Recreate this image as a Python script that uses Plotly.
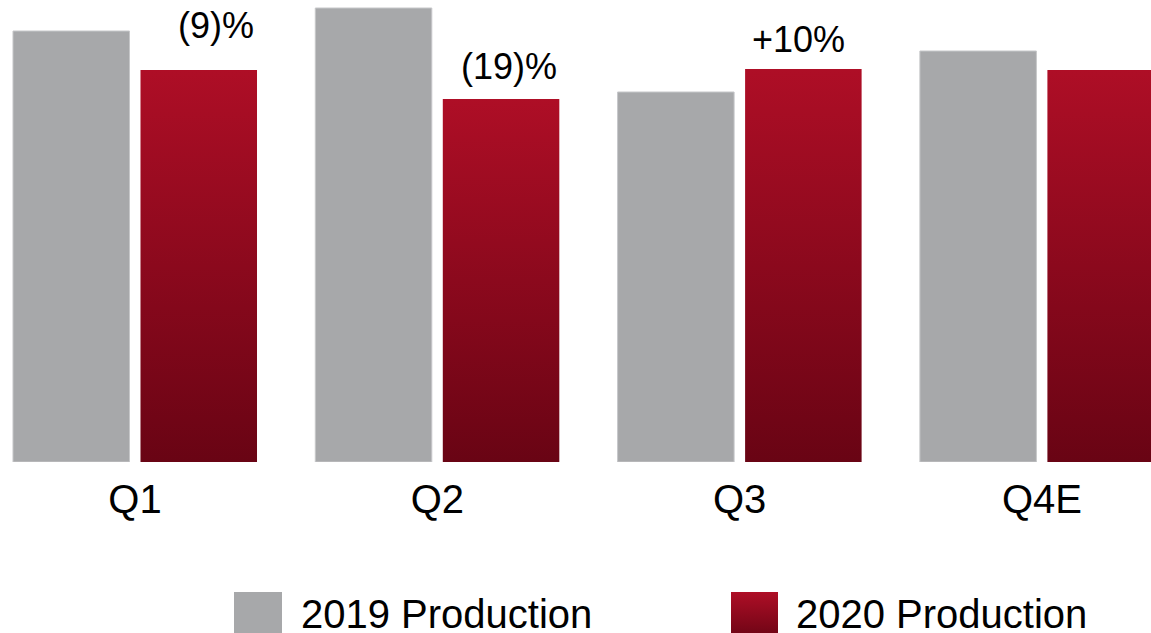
import plotly.graph_objects as go

# Quarterly production, drawn heights in chart units
quarters = ["Q1", "Q2", "Q3", "Q4E"]
prod_2019 = [431, 454, 370, 411]
prod_2020 = [392, 363, 393, 392]
change_labels = ["(9)%", "(19)%", "+10%"]
change_label_x = [0.268, 1.237, 2.196]
change_label_y = [437, 396, 423]

W, H = 1151, 633
FONT = "Liberation Sans, Arial, sans-serif"
GRAY = "#a7a8aa"
GRAY_EDGE = "#c6c7c9"
RED_TOP = "#ae0e26"
RED_BOTTOM = "#690414"

BAR_W = 0.3854       # bar width in category units
GRAY_OFF = -0.4036   # left edge of 2019 bar relative to category centre
RED_OFF = 0.0182     # left edge of 2020 bar relative to category centre

fig = go.Figure()

xs = list(range(len(quarters)))

fig.add_trace(go.Bar(
    x=xs, y=prod_2019, width=BAR_W, offset=GRAY_OFF,
    marker=dict(color=GRAY, line=dict(color=GRAY_EDGE, width=1)),
    name="2019 Production", showlegend=False, hoverinfo="skip",
))

# 2020 bars as filled polygons so each can carry a vertical gradient
for i, v in zip(xs, prod_2020):
    x0 = i + RED_OFF
    x1 = x0 + BAR_W
    fig.add_trace(go.Scatter(
        x=[x0, x1, x1, x0, x0], y=[0, 0, v, v, 0],
        mode="none", fill="toself",
        fillgradient=dict(type="vertical",
                          colorscale=[[0, RED_BOTTOM], [1, RED_TOP]],
                          start=0, stop=v),
        showlegend=False, hoverinfo="skip",
    ))

# Legend swatches on a separate full-figure pixel-space subplot
legend_items = [("2019 Production", 234, 282, False), ("2020 Production", 731, 778, True)]
for label, sx0, sx1, grad in legend_items:
    sy0, sy1 = 592, 640
    kw = dict(x=[sx0, sx1, sx1, sx0, sx0], y=[sy1, sy1, sy0, sy0, sy1],
              mode="none", fill="toself", xaxis="x2", yaxis="y2",
              showlegend=False, hoverinfo="skip")
    if grad:
        kw["fillgradient"] = dict(type="vertical",
                                  colorscale=[[0, RED_TOP], [1, RED_BOTTOM]],
                                  start=sy0, stop=sy1)
    else:
        kw["fillcolor"] = GRAY
    fig.add_trace(go.Scatter(**kw))

annotations = []
for txt, ax, ay in zip(change_labels, change_label_x, change_label_y):
    annotations.append(dict(x=ax, y=ay, xref="x", yref="y", text=txt,
                            showarrow=False, xanchor="center", yanchor="middle",
                            font=dict(family=FONT, size=36, color="black")))

legend_text_x = [299, 794]
for (label, *_), tx in zip(legend_items, legend_text_x):
    annotations.append(dict(x=tx, y=614, xref="x2", yref="y2", text=label,
                            showarrow=False, xanchor="left", yanchor="middle",
                            font=dict(family=FONT, size=40, color="black")))

px_per_cat = 302.3
x_lo = -135 / px_per_cat
x_hi = (W - 135) / px_per_cat

fig.update_layout(
    width=W, height=H,
    margin=dict(l=0, r=0, t=0, b=0),
    paper_bgcolor="white", plot_bgcolor="rgba(0,0,0,0)",
    showlegend=False,
    xaxis=dict(range=[x_lo, x_hi], domain=[0, 1], tickmode="array",
               tickvals=xs, ticktext=quarters, showgrid=False, zeroline=False,
               showline=False, ticks="", anchor="y", ticklabelstandoff=10,
               tickfont=dict(family=FONT, size=40, color="black")),
    yaxis=dict(range=[0, 462], domain=[171 / H, 1], visible=False,
               showgrid=False, zeroline=False),
    xaxis2=dict(range=[0, W], domain=[0, 1], visible=False, anchor="y2"),
    yaxis2=dict(range=[H, 0], domain=[0, 1], visible=False, anchor="x2"),
    annotations=annotations,
)

fig.write_html("out.html")
